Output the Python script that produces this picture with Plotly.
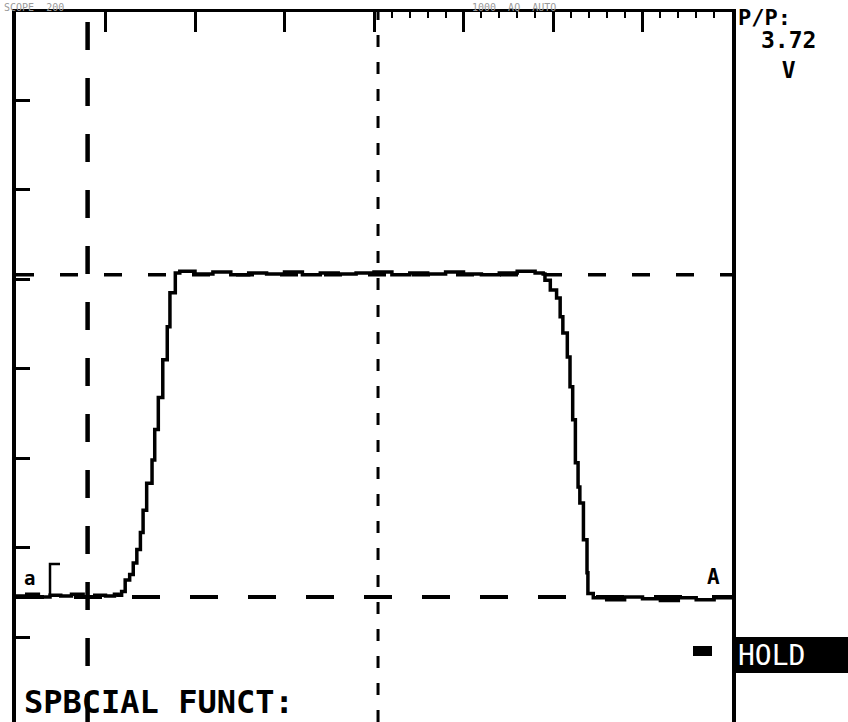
import plotly.graph_objects as go

# ---- data (time in divisions, amplitude in volts, 1 V/div) ----
time_div = [0.00, 0.12, 0.25, 0.38, 0.50, 0.62, 0.75, 0.88, 1.00, 1.10, 1.14,
            1.18, 1.22, 1.27, 1.31, 1.35, 1.39, 1.42, 1.46, 1.52, 1.55, 1.59,
            1.64, 1.69, 1.72, 1.78, 1.83,
            2.00, 2.20, 2.40, 2.60, 2.80, 3.00, 3.20, 3.40, 3.60, 3.80, 4.00,
            4.20, 4.40, 4.60, 4.80, 5.00, 5.20, 5.40, 5.60, 5.80, 5.89,
            5.91, 5.97, 6.04, 6.08, 6.11, 6.16, 6.19, 6.22, 6.25, 6.28, 6.30,
            6.34, 6.38, 6.39, 6.45,
            6.60, 6.80, 7.00, 7.20, 7.40, 7.60, 7.80, 8.00]
volts = [0.01, 0.03, 0.00, 0.02, 0.01, 0.03, 0.00, 0.02, 0.01, 0.03, 0.02,
         0.06, 0.19, 0.25, 0.38, 0.53, 0.72, 0.97, 1.27, 1.53, 1.87, 2.23,
         2.65, 3.02, 3.40, 3.62, 3.64,
         3.61, 3.63, 3.60, 3.62, 3.61, 3.63, 3.60, 3.62, 3.61, 3.62, 3.63,
         3.60, 3.62, 3.61, 3.63, 3.61, 3.60, 3.62, 3.64, 3.62, 3.61,
         3.54, 3.43, 3.34, 3.13, 2.95, 2.68, 2.35, 1.98, 1.50, 1.23, 1.05,
         0.64, 0.27, 0.04, -0.01,
         -0.03, 0.00, -0.02, -0.04, -0.01, -0.03, -0.01, 0.00]

x_ticks = [1, 2, 3, 4, 5, 6, 7]
x_minor = [4.2, 4.4, 4.6, 4.8, 5.2, 5.4, 5.6, 5.8, 6.2, 6.4, 6.6, 6.8, 7.2, 7.4, 7.6, 7.8]
y_ticks = [-0.45, 0.55, 1.55, 2.55, 3.55, 4.55, 5.55]
x_range = [0, 8]
y_range = [-1.397, 6.536]

cursor_t = 0.80      # vertical time cursor
center_t = 4.045     # screen centre line
level_high = 3.60    # upper level cursor
level_low = 0.0      # lower level cursor

pp_label = "P/P:"
pp_value = "3.72"
pp_unit = "V"
header_left = "SCOPE  200"
header_right = "1000  AQ  AUTO"

W, H = 848, 722
L, R, T, B = 16, 116, 12, 0


def px(x):
    return (x - L) / (W - L - R)


def py(y):
    return (H - B - y) / (H - T - B)


fig = go.Figure()
fig.add_trace(go.Scatter(x=time_div, y=volts, mode="lines",
                         line=dict(color="black", width=3.5, shape="hv"),
                         hoverinfo="skip", showlegend=False))

shapes = [
    # cursors / reference lines
    dict(type="line", xref="x", yref="y", x0=cursor_t, x1=cursor_t,
         y0=y_range[0], y1=y_range[1],
         line=dict(color="black", width=4.5, dash="28px,28px")),
    dict(type="line", xref="x", yref="y", x0=center_t, x1=center_t,
         y0=y_range[0], y1=y_range[1],
         line=dict(color="black", width=3, dash="12px,15px")),
    dict(type="line", xref="x", yref="y", x0=0, x1=8,
         y0=level_high, y1=level_high,
         line=dict(color="black", width=3.5, dash="18px,26px")),
    dict(type="line", xref="x", yref="y", x0=0, x1=8,
         y0=level_low, y1=level_low,
         line=dict(color="black", width=4, dash="28px,30px")),
    # HOLD box
    dict(type="rect", xref="paper", yref="paper", x0=px(733), x1=px(848),
         y0=py(673), y1=py(637), fillcolor="black", line=dict(width=0)),
    # small dash left of HOLD
    dict(type="rect", xref="paper", yref="paper", x0=px(693), x1=px(712),
         y0=py(656), y1=py(646), fillcolor="black", line=dict(width=0)),
    # channel bracket
    dict(type="path", xref="paper", yref="paper",
         path=f"M {px(50)},{py(594)} L {px(50)},{py(564)} L {px(60)},{py(564)}",
         line=dict(color="black", width=2.5)),
]

mono = "DejaVu Sans Mono"


def ann(text, x, y, xa, ya, size, color="black", bold=True, align="left"):
    t = f"<b>{text}</b>" if bold else text
    return dict(text=t, x=px(x), y=py(y), xanchor=xa, yanchor=ya, align=align,
                font=dict(family=mono, size=size, color=color),
                showarrow=False, xref="paper", yref="paper")


annotations = [
    ann(pp_label, 736, 3, "left", "top", 22),
    ann(f"{pp_value}<br>{pp_unit}", 788, 25, "center", "top", 23, align="center"),
    ann("HOLD", 736, 655, "left", "middle", 28, color="white", bold=False),
    ann("SPBCIAL FUNCT:", 22, 723, "left", "bottom", 32),
    ann("a", 29, 591, "center", "bottom", 19),
    ann("A", 713, 591, "center", "bottom", 21),
    ann(header_left, 2, 0, "left", "top", 10, color="#9a9a9a", bold=False),
    ann(header_right, 470, 0, "left", "top", 10, color="#9a9a9a", bold=False),
]

fig.update_layout(
    width=W, height=H,
    margin=dict(l=L, r=R, t=T, b=B, pad=0),
    paper_bgcolor="white", plot_bgcolor="white",
    shapes=shapes, annotations=annotations,
    showlegend=False,
    xaxis=dict(range=x_range, side="top", showgrid=False, zeroline=False,
               showline=True, linecolor="black", linewidth=3,
               ticks="inside", tickvals=x_ticks, ticklen=20, tickwidth=3,
               tickcolor="black", showticklabels=False,
               minor=dict(tickvals=x_minor, ticks="inside", ticklen=6,
                          tickwidth=2, tickcolor="black")),
    yaxis=dict(range=y_range, showgrid=False, zeroline=False,
               showline=True, linecolor="black", linewidth=4, mirror=True,
               ticks="inside", tickvals=y_ticks, ticklen=14, tickwidth=3,
               tickcolor="black", showticklabels=False),
)

fig.write_html("out.html")
